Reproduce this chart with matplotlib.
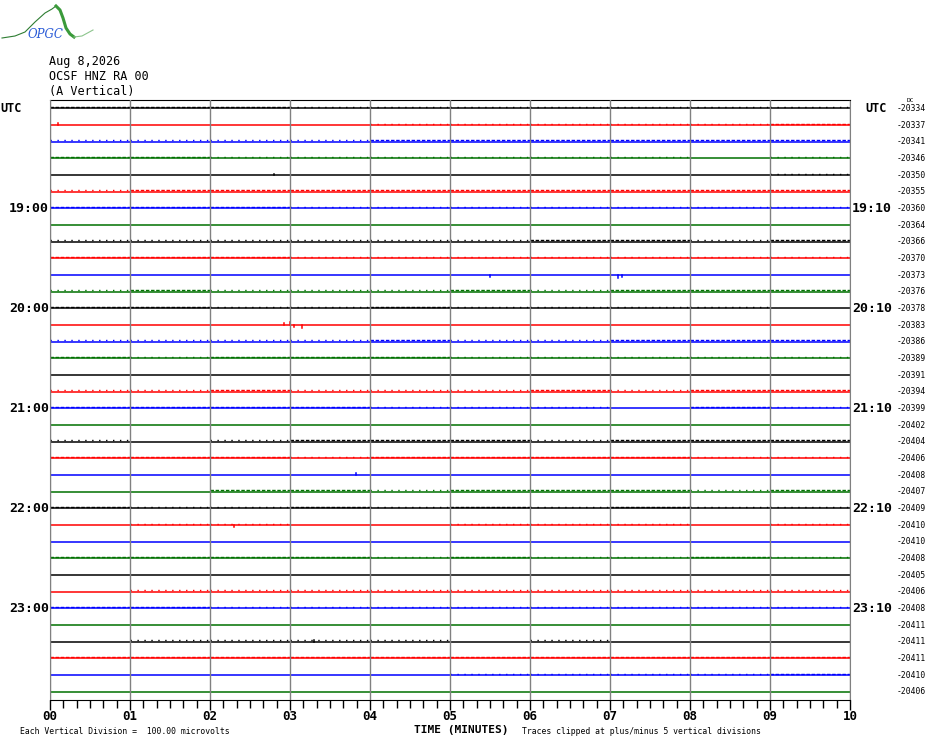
import matplotlib
matplotlib.use("Agg")
import matplotlib.pyplot as plt

# helicorder rows: 18:00 .. 23:50 UTC, one row per 10 minutes
start_hour = 18
dc_offsets = [-20334, -20337, -20341, -20346, -20350, -20355,
              -20360, -20364, -20366, -20370, -20373, -20376,
              -20378, -20383, -20386, -20389, -20391, -20394,
              -20399, -20402, -20404, -20406, -20408, -20407,
              -20409, -20410, -20410, -20408, -20405, -20406,
              -20408, -20411, -20411, -20411, -20410, -20406]

# noise level per minute of each row (0 quiet, 1 sparse, 2 dense)
activity = ["2221111111", "0000111112", "1111222222", "2211111101",
            "0000000001", "1222222222", "2221111111", "0000000000",
            "1111112212", "2221111111", "0000000000", "1211121222",
            "2211211110", "0000000000", "1111211222", "2122211111",
            "0000000000", "1121112122", "2222111021", "0000000000",
            "1012221222", "2221222211", "0000000000", "0022122212",
            "2112121211", "0110011101", "0000000000", "2222121121",
            "0000000000", "0111111111", "2211111111", "0000000000",
            "0111101000", "2222222222", "0000011112", "0000000000"]

# isolated wiggles (row, minute, divisions)
events = [(13, 2.93, 0.12), (13, 3.0, 0.18), (13, 3.05, -0.1), (13, 3.15, -0.15),
          (10, 5.5, -0.12), (10, 7.1, -0.15), (10, 7.15, -0.1), (25, 2.3, -0.1),
          (4, 2.8, 0.08), (1, 0.1, 0.1), (22, 3.82, 0.1), (32, 3.3, 0.1)]

minutes = list(range(11))
row_colors = ["#000000", "#ff0000", "#0000ff", "#007000"]
mono = "DejaVu Sans Mono"

fig = plt.figure(figsize=(9.3, 7.44), dpi=100)
ax = fig.add_axes([50 / 930, 44 / 744, 800 / 930, 600 / 744])
n = len(dc_offsets)

for i in range(n):
    c = row_colors[i % 4]
    ax.plot([minutes[0], minutes[-1]], [i, i], color=c, lw=1.1, zorder=3)
    for m, lev in enumerate(activity[i]):
        if lev == "0":
            continue
        dash = (0, (2.5, 1.2)) if lev == "2" else (0, (1, 4))
        ax.plot([m, m + 1], [i - 0.08, i - 0.08], color=c, lw=1.0,
                ls=dash, zorder=3)

for row, t, amp in events:
    ax.plot([t, t], [row, row - amp], color=row_colors[row % 4], lw=1.1, zorder=4)

ax.set_xlim(0, 10)
ax.set_ylim(n - 0.5, -0.5)
for x in minutes:
    ax.axvline(x, color="#808080", lw=1.0, zorder=5)

for s in ["left", "right"]:
    ax.spines[s].set_color("#808080")
ax.spines["top"].set_color("black")
ax.spines["bottom"].set_color("black")

ax.set_yticks([])
ax.set_xticks(minutes)
ax.set_xticklabels([f"{m:02d}" for m in minutes], fontfamily=mono,
                   fontweight="bold", fontsize=9)
ax.set_xticks([k / 6 for k in range(61)], minor=True)
ax.tick_params(axis="x", which="major", length=7, width=1, pad=0)
ax.tick_params(axis="x", which="minor", length=6, width=1)

tr = ax.get_yaxis_transform()
for i in range(0, n, 6):
    h = start_hour + i // 6
    if i == 0:
        ax.text(-50 / 800, i, "UTC", transform=tr, ha="left", va="center",
                fontfamily=mono, fontweight="bold", fontsize=8.5)
        ax.text(15 / 800 + 1, i, "UTC", transform=tr, ha="left", va="center",
                fontfamily=mono, fontweight="bold", fontsize=8.5)
    else:
        ax.text(-1 / 800, i, f"{h}:00", transform=tr, ha="right", va="center",
                fontfamily=mono, fontweight="bold", fontsize=9.5)
        ax.text(1 + 2 / 800, i, f"{h}:10", transform=tr, ha="left", va="center",
                fontfamily=mono, fontweight="bold", fontsize=9.5)

for i, dc in enumerate(dc_offsets):
    ax.text(1 + 76 / 800, i, f"{dc}", transform=tr, ha="right", va="center",
            fontfamily=mono, fontsize=5.8)
ax.text(1 + 60 / 800, -0.45, "DC", transform=tr, ha="center", va="center",
        fontfamily=mono, fontsize=4.5)

# header
for k, line in enumerate(["Aug 8,2026", "OCSF HNZ RA 00", "(A Vertical)"]):
    fig.text(49 / 930, 1 - (62 + 15 * k) / 744, line, ha="left", va="center",
             fontfamily=mono, fontsize=8.5)

# footer
fig.text(20 / 930, 1 - 731 / 744, "Each Vertical Division =  100.00 microvolts",
         ha="left", va="center", fontfamily=mono, fontsize=5.9)
fig.text(414 / 930, 1 - 730 / 744, "TIME (MINUTES)", ha="left", va="center",
         fontfamily=mono, fontweight="bold", fontsize=8)
fig.text(522 / 930, 1 - 731 / 744, "Traces clipped at plus/minus 5 vertical divisions",
         ha="left", va="center", fontfamily=mono, fontsize=5.9)

# OPGC logo
logo = fig.add_axes([0, 1 - 45 / 744, 100 / 930, 45 / 744])
logo.set_xlim(0, 100)
logo.set_ylim(45, 0)
logo.axis("off")
logo.plot([2, 15, 25, 35, 45, 52, 56], [38, 36, 32, 22, 13, 9, 6], color="#2e7d32", lw=0.8)
logo.plot([56, 60, 63, 66, 70, 74], [6, 10, 18, 28, 34, 37], color="#3a9a3a", lw=2.2)
logo.plot([74, 82, 93], [37, 36, 30], color="#8cc48c", lw=0.8)
logo.text(45, 34, "OPGC", ha="center", va="center", color="#2a5bd7",
          fontsize=8.5, style="italic", fontfamily="DejaVu Serif")

fig.savefig("out.png", dpi=100)
